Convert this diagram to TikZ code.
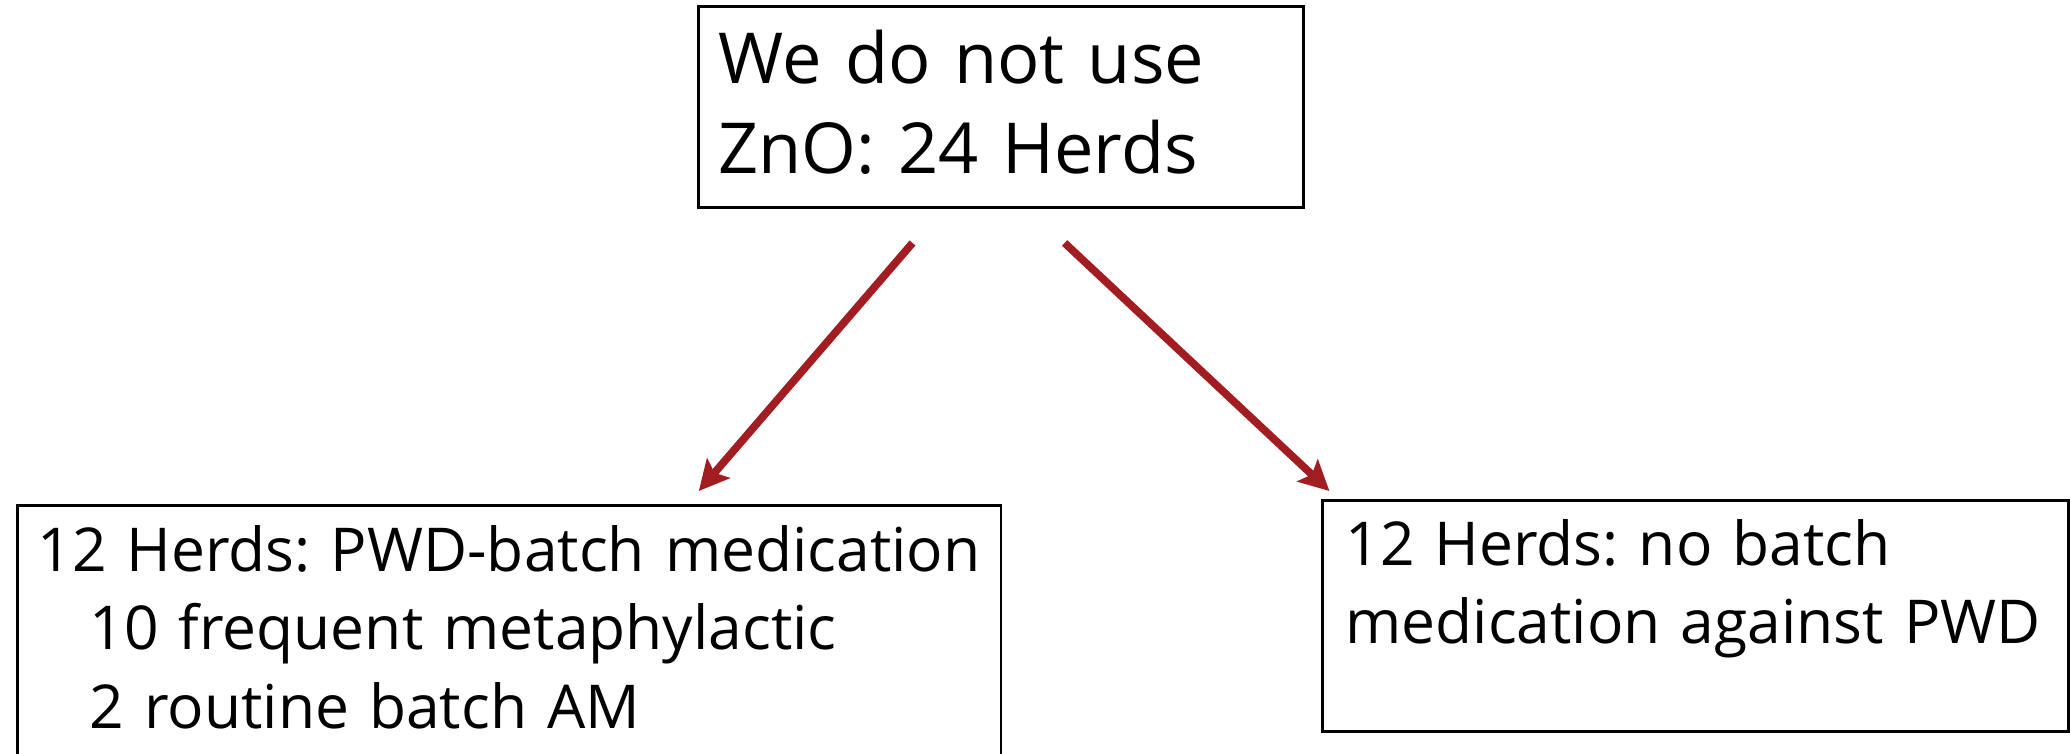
\documentclass[tikz,border=0pt]{standalone}
\usepackage{fontspec}
\setmainfont{Open Sans}
\frenchspacing
\usetikzlibrary{arrows.meta}
\definecolor{arrowred}{HTML}{A21D21}

\begin{document}
\begin{tikzpicture}[x=0.01cm, y=-0.01cm,
	box/.style={draw, line width=0.8pt, anchor=north west, inner xsep=0.2cm, inner ysep=0pt, align=left},
	bigtext/.style={font=\fontsize{20pt}{25.6pt}\selectfont},
	herdtext/.style={font=\fontsize{17.2pt}{22.3pt}\selectfont},
	split/.style={draw=arrowred, line width=2.2pt, -{Stealth[length=0.3cm, width=0.3cm, inset=0.06cm]}}]
	\clip (0,0) rectangle (2070,753);
	\node[box, bigtext, text width=5.65cm, text height=0.77cm, text depth=1.24cm] (zno) at (697,5) {We do not use\\ZnO: 24 Herds};
	\node[box, herdtext, text width=9.43cm, text height=0.66cm, text depth=2.1cm] (batch) at (16,504)
		{\mbox{12 Herds: PWD-batch medication}\\\hspace*{0.52cm}10 frequent metaphylactic\\\hspace*{0.52cm}2 routine batch AM};
	\node[box, herdtext, inner xsep=0.23cm, text width=7.0cm, text height=0.65cm, text depth=1.66cm] (nobatch) at (1321,499)
		{12 Herds: no batch\\\mbox{medication against PWD}};
	\draw[split] ([xshift=-0.885cm, yshift=-0.34cm]zno.south) -- ([xshift=1.895cm, yshift=0.13cm]batch.north);
	\draw[split] ([xshift=0.635cm, yshift=-0.34cm]zno.south) -- ([xshift=-3.66cm, yshift=0.08cm]nobatch.north);
\end{tikzpicture}
\end{document}
